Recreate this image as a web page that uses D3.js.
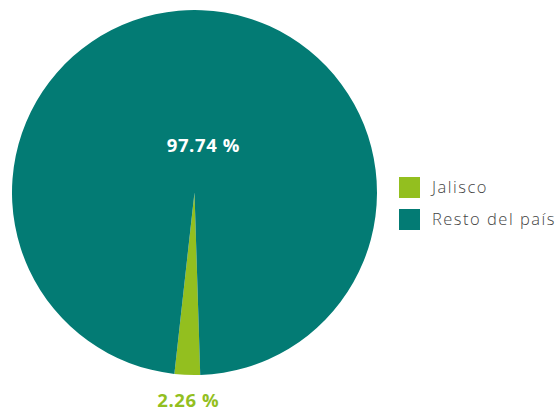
<!DOCTYPE html>
<html><head><meta charset="utf-8">
<script src="https://cdn.jsdelivr.net/npm/d3@7"></script>
<style>body{margin:0;background:#fff}svg{display:block}</style>
</head><body>
<svg id="c" width="555" height="414"></svg>
<script>
const categories = ["Jalisco", "Resto del país"];
const values = [2.26, 97.74];
const labels = ["2.26 %", "97.74 %"];
const colors = ["#93bf1f", "#037b74"];

const svg = d3.select("#c");
const cx = 194.5, cy = 192.5, r = 182.5;
const g = svg.append("g").attr("transform", `translate(${cx},${cy})`);

const start = (178.2) * Math.PI / 180;
const pie = d3.pie().sort(null).value(d => d)
  .startAngle(start).endAngle(start + 2 * Math.PI);
const arcs = pie(values);
const arc = d3.arc().innerRadius(0).outerRadius(r);

g.selectAll("path").data(arcs).join("path")
  .attr("d", arc).attr("fill", (d, i) => colors[i]);

const labelR = [208, 47];
const labelDx = [2, 7];
const labelCol = ["#93bf1f", "#ffffff"];
g.selectAll("text.lbl").data(arcs).join("text")
  .attr("class", "lbl")
  .attr("x", (d, i) => { const a = (d.startAngle + d.endAngle) / 2; return labelR[i] * Math.sin(a) + labelDx[i]; })
  .attr("y", (d, i) => { const a = (d.startAngle + d.endAngle) / 2; return -labelR[i] * Math.cos(a); })
  .attr("dy", "0.35em")
  .attr("text-anchor", "middle")
  .attr("font-family", "Open Sans, sans-serif")
  .attr("font-weight", 700)
  .attr("font-size", 18.5)
  .attr("letter-spacing", 0.6)
  .attr("fill", (d, i) => labelCol[i])
  .text((d, i) => labels[i]);

const lg = svg.append("g").attr("transform", "translate(399,177)");
const item = lg.selectAll("g").data(categories).join("g")
  .attr("transform", (d, i) => `translate(0,${i * 32})`);
item.append("rect").attr("width", 21).attr("height", 21).attr("fill", (d, i) => colors[i]);
item.append("text").attr("x", 33).attr("y", 10.5).attr("dy", "0.35em")
  .attr("font-family", "Open Sans, sans-serif").attr("font-weight", 300)
  .attr("font-size", 16.5).attr("letter-spacing", 1.5).attr("fill", "#444").text(d => d);
</script>
</body></html>
